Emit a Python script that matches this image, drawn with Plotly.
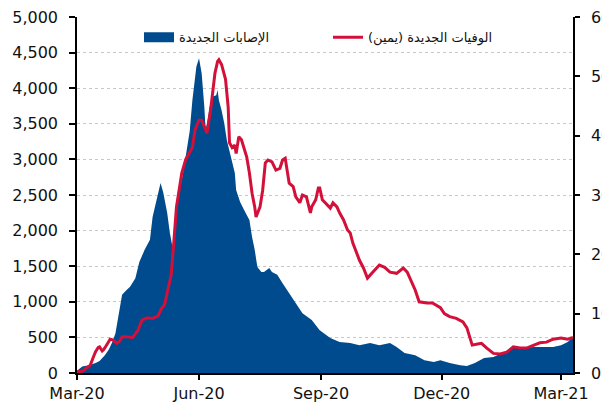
import plotly.graph_objects as go

# New cases (left axis)
case_dates = [
    "2020-03-01", "2020-03-05", "2020-03-10", "2020-03-15", "2020-03-18", "2020-03-22",
    "2020-03-25", "2020-03-28", "2020-03-30", "2020-04-01", "2020-04-04", "2020-04-07",
    "2020-04-10", "2020-04-14", "2020-04-17", "2020-04-21", "2020-04-25", "2020-04-27",
    "2020-04-30", "2020-05-03", "2020-05-05", "2020-05-08", "2020-05-10", "2020-05-12",
    "2020-05-13", "2020-05-16", "2020-05-20", "2020-05-23", "2020-05-25", "2020-05-27",
    "2020-05-30", "2020-06-01", "2020-06-03", "2020-06-05", "2020-06-06", "2020-06-08",
    "2020-06-09", "2020-06-11", "2020-06-14", "2020-06-15", "2020-06-16", "2020-06-18",
    "2020-06-20", "2020-06-22", "2020-06-24", "2020-06-26", "2020-06-28", "2020-06-29",
    "2020-07-02", "2020-07-05", "2020-07-09", "2020-07-11", "2020-07-13", "2020-07-15",
    "2020-07-18", "2020-07-20", "2020-07-24", "2020-07-26", "2020-07-30", "2020-08-03",
    "2020-08-08", "2020-08-14", "2020-08-18", "2020-08-25", "2020-08-31", "2020-09-08",
    "2020-09-15", "2020-09-23", "2020-09-30", "2020-10-08", "2020-10-15", "2020-10-23",
    "2020-10-28", "2020-11-03", "2020-11-11", "2020-11-18", "2020-11-25", "2020-11-30",
    "2020-12-07", "2020-12-15", "2020-12-20", "2020-12-26", "2021-01-02", "2021-01-09",
    "2021-01-17", "2021-01-24", "2021-02-01", "2021-02-08", "2021-02-16", "2021-02-23",
    "2021-03-01", "2021-03-06", "2021-03-10",
]
case_values = [
    30, 90, 110, 140, 170, 250,
    330, 450, 560, 800, 1100, 1160,
    1210, 1330, 1560, 1730, 1870, 2190,
    2430, 2670, 2540, 2250, 1970, 1770,
    1750, 2430, 2810, 3130, 3400, 3830,
    4300, 4420, 4210, 3740, 3410, 3600,
    3740, 3880, 3900, 3975, 3830, 3690,
    3510, 3270, 3130, 2990, 2810, 2570,
    2400, 2290, 2150, 1910, 1730, 1490,
    1420, 1420, 1475, 1420, 1380, 1260,
    1120, 955, 840, 745, 600, 490,
    435, 420, 390, 420, 390, 420,
    365, 280, 250, 180, 155, 180,
    140, 110, 100, 140, 210, 225,
    295, 350, 350, 365, 365, 365,
    390, 435, 505,
]

# New deaths (right axis)
death_dates = [
    "2020-03-01", "2020-03-05", "2020-03-08", "2020-03-11", "2020-03-13", "2020-03-15",
    "2020-03-17", "2020-03-18", "2020-03-20", "2020-03-21", "2020-03-23", "2020-03-26",
    "2020-03-28", "2020-03-31", "2020-04-02", "2020-04-04", "2020-04-07", "2020-04-12",
    "2020-04-16", "2020-04-19", "2020-04-23", "2020-04-27", "2020-04-29", "2020-05-01",
    "2020-05-04", "2020-05-06", "2020-05-08", "2020-05-11", "2020-05-13", "2020-05-15",
    "2020-05-19", "2020-05-22", "2020-05-27", "2020-05-29", "2020-06-01", "2020-06-03",
    "2020-06-04", "2020-06-07", "2020-06-10", "2020-06-13", "2020-06-15", "2020-06-16",
    "2020-06-18", "2020-06-20", "2020-06-21", "2020-06-23", "2020-06-24", "2020-06-26",
    "2020-06-28", "2020-06-29", "2020-07-01", "2020-07-03", "2020-07-05", "2020-07-07",
    "2020-07-09", "2020-07-11", "2020-07-13", "2020-07-14", "2020-07-17", "2020-07-19",
    "2020-07-21", "2020-07-23", "2020-07-26", "2020-07-29", "2020-08-01", "2020-08-03",
    "2020-08-05", "2020-08-07", "2020-08-08", "2020-08-11", "2020-08-13", "2020-08-16",
    "2020-08-18", "2020-08-21", "2020-08-24", "2020-08-25", "2020-08-28", "2020-08-30",
    "2020-08-31", "2020-09-02", "2020-09-04", "2020-09-08", "2020-09-10", "2020-09-13",
    "2020-09-15", "2020-09-18", "2020-09-21", "2020-09-23", "2020-09-25", "2020-09-28",
    "2020-09-30", "2020-10-03", "2020-10-06", "2020-10-10", "2020-10-15", "2020-10-19",
    "2020-10-23", "2020-10-28", "2020-11-02", "2020-11-05", "2020-11-07", "2020-11-11",
    "2020-11-14", "2020-11-20", "2020-11-24", "2020-11-30", "2020-12-03", "2020-12-07",
    "2020-12-12", "2020-12-17", "2020-12-20", "2020-12-22", "2020-12-24", "2020-12-28",
    "2020-12-31", "2021-01-04", "2021-01-09", "2021-01-14", "2021-01-19", "2021-01-24",
    "2021-01-29", "2021-02-03", "2021-02-08", "2021-02-13", "2021-02-18", "2021-02-23",
    "2021-03-01", "2021-03-06", "2021-03-10",
]
death_values = [
    0.2, 0.3, 0.8, 1.3, 2.5, 3.6,
    4.3, 4.4, 3.7, 3.9, 4.6, 5.7,
    5.6, 5.0, 5.3, 6.1, 6.1, 6.0,
    7.2, 8.9, 9.3, 9.2, 9.4, 9.6,
    11.0, 11.5, 13.5, 16.5, 22.0, 28.0,
    33.7, 36.0, 38.0, 41.0, 42.6, 42.6,
    42.1, 40.4, 44.8, 50.5, 52.5, 52.8,
    52.0, 50.0, 49.5, 44.8, 38.8, 38.0,
    38.4, 37.0, 39.8, 39.3, 38.0, 36.4,
    33.7, 30.3, 28.0, 26.3, 28.0, 30.8,
    35.4, 35.9, 35.6, 34.2, 34.5, 35.9,
    36.2, 33.7, 32.0, 31.4, 29.7, 28.7,
    30.0, 29.7, 27.0, 28.0, 29.2, 31.2,
    31.2, 29.2, 28.7, 27.8, 28.7, 28.0,
    27.0, 25.8, 24.1, 23.6, 21.9, 20.2,
    19.0, 17.7, 16.0, 17.0, 18.2, 17.8,
    17.0, 16.8, 17.7, 17.0, 16.0, 14.0,
    12.0, 11.8, 11.8, 11.0, 10.0, 9.5,
    9.2, 8.6, 7.6, 6.0, 4.7, 4.9,
    5.0, 4.2, 3.3, 3.2, 3.5, 4.4,
    4.2, 4.2, 4.7, 5.1, 5.2, 5.7,
    5.9, 5.7, 6.0,
]

tick_dates = ["2020-03-01", "2020-06-01", "2020-09-01", "2020-12-01", "2021-03-01"]
tick_labels = ["Mar-20", "Jun-20", "Sep-20", "Dec-20", "Mar-21"]
left_ticks = [0, 500, 1000, 1500, 2000, 2500, 3000, 3500, 4000, 4500, 5000]
right_ticks = [0, 10, 20, 30, 40, 50, 60]

name_cases = "الإصابات الجديدة"
name_deaths = "الوفيات الجديدة (يمين)"

BLUE = "#004b8d"
RED = "#d2103a"
FONT = "DejaVu Sans"

fig = go.Figure()

fig.add_trace(go.Scatter(
    x=case_dates, y=case_values, mode="lines", fill="tozeroy",
    line=dict(width=0, color=BLUE), fillcolor=BLUE,
    showlegend=False, hoverinfo="skip", yaxis="y",
))
# legend entry for the cases (a wide block)
fig.add_trace(go.Scatter(
    x=[None], y=[None], mode="lines", name=name_cases,
    line=dict(width=10, color=BLUE), yaxis="y",
))
fig.add_trace(go.Scatter(
    x=death_dates, y=death_values, mode="lines", name=name_deaths,
    line=dict(width=3, color=RED), yaxis="y2",
))

fig.update_layout(
    width=602, height=407,
    margin=dict(l=77, r=29, t=17, b=34, autoexpand=False),
    paper_bgcolor="white", plot_bgcolor="white",
    font=dict(family=FONT, size=16, color="#111111"),
    showlegend=True,
    legend=dict(
        orientation="h", x=0.125, xanchor="left", y=0.985, yanchor="top",
        font=dict(family=FONT, size=13, color="#111111"),
        bgcolor="rgba(0,0,0,0)", entrywidth=144, entrywidthmode="pixels",
        traceorder="normal",
    ),
    xaxis=dict(
        type="date", range=["2020-03-01", "2021-03-10"],
        tickvals=tick_dates, ticktext=tick_labels,
        ticks="outside", ticklen=5, tickwidth=1.5, tickcolor="black",
        showline=True, linecolor="black", linewidth=1.5,
        showgrid=False, zeroline=False, automargin=False,
    ),
    yaxis=dict(
        range=[0, 5000], tickvals=left_ticks, tickformat=",d",
        ticks="outside", ticklen=6, tickwidth=1.5, tickcolor="black",
        showline=True, linecolor="black", linewidth=1.5,
        showgrid=True, gridcolor="#c8c8c8", gridwidth=1, griddash="dot",
        zeroline=False, ticklabelstandoff=8, automargin=False,
    ),
    yaxis2=dict(
        range=[0, 60], tickvals=right_ticks, overlaying="y", side="right",
        ticks="outside", ticklen=5, tickwidth=1.5, tickcolor="black",
        showline=True, linecolor="black", linewidth=1.5,
        showgrid=False, zeroline=False, ticklabelstandoff=8, automargin=False,
    ),
)

fig.write_html(
    "out.html",
    config={"displayModeBar": False},
    post_script="document.body.style.margin='0';document.body.style.overflow='hidden';",
)
